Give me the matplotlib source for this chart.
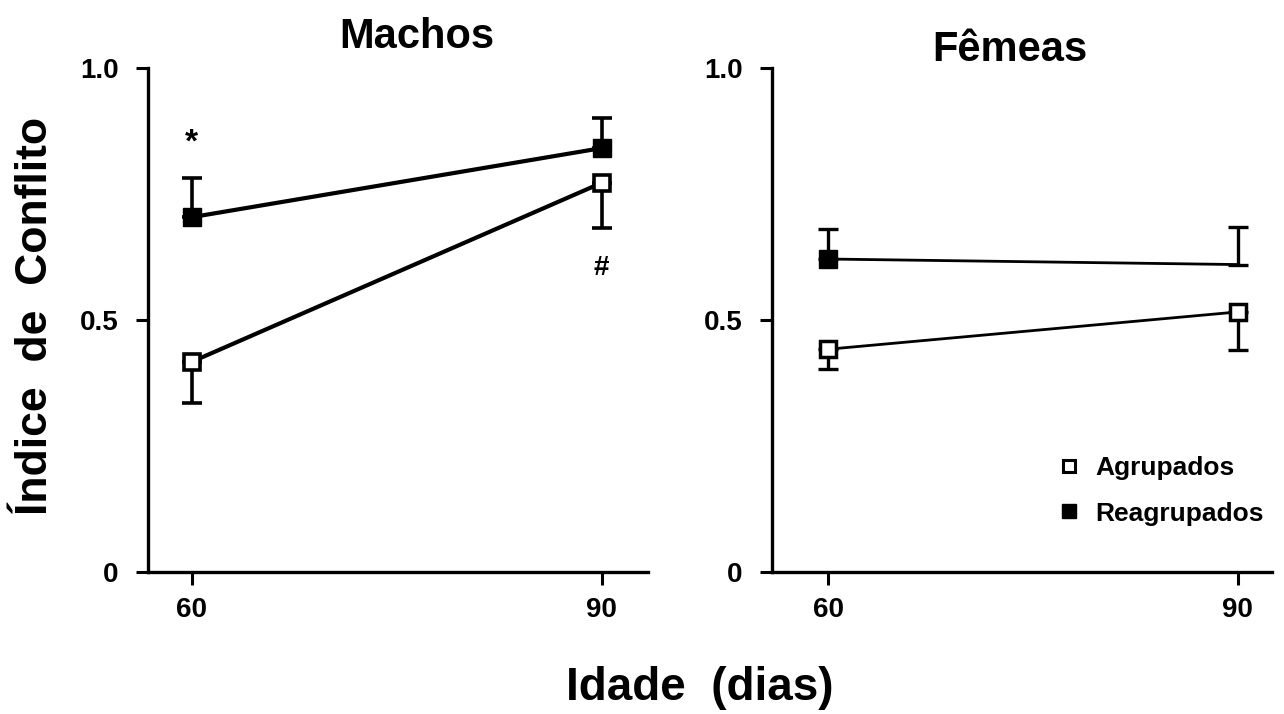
import matplotlib
matplotlib.use("Agg")
import matplotlib.pyplot as plt
from matplotlib.lines import Line2D

plt.rcParams['font.family'] = ['Liberation Sans', 'DejaVu Sans']
plt.rcParams['font.weight'] = 'bold'

ages = [60, 90]
# Machos
m_agr = [0.417, 0.772]
m_agr_err = [0.082, 0.089]      # lower error
m_rea = [0.704, 0.841]
m_rea_err = [0.078, 0.060]      # upper error
# Fêmeas
f_agr = [0.442, 0.516]
f_agr_err = [0.039, 0.076]      # lower error
f_rea = [0.621, 0.610]
f_rea_err = [0.059, 0.075]      # upper error

titles = ["Machos", "Fêmeas"]
yticks = [0, 0.5, 1.0]
yticklabels = ["0", "0.5", "1.0"]
xticklabels = ["60", "90"]
legend_labels = ["Agrupados", "Reagrupados"]

W, H = 1284, 714
fig = plt.figure(figsize=(W/100, H/100), dpi=100)
axL = fig.add_axes([148/W, 1-572/H, 500/W, 504/H])
axR = fig.add_axes([772/W, 1-572/H, 500/W, 504/H])

def style(ax, xlim):
    ax.set_xlim(*xlim)
    ax.set_ylim(0, 1.0)
    for s in ['top', 'right']:
        ax.spines[s].set_visible(False)
    for s in ['left', 'bottom']:
        ax.spines[s].set_linewidth(2.4)
    ax.set_xticks(ages)
    ax.set_xticklabels(xticklabels)
    ax.set_yticks(yticks)
    ax.set_yticklabels(yticklabels)
    ax.tick_params(axis='x', direction='out', length=9, width=2.2, labelsize=20, pad=9)
    ax.tick_params(axis='y', direction='out', length=9, width=2.2, labelsize=20, pad=12)

# Machos
lw = 3.0
axL.errorbar(ages, m_rea, yerr=[[0, 0], m_rea_err], fmt='none', ecolor='black',
             elinewidth=2.6, capsize=7, capthick=2.6)
axL.errorbar(ages, m_agr, yerr=[m_agr_err, [0, 0]], fmt='none', ecolor='black',
             elinewidth=2.6, capsize=7, capthick=2.6)
axL.plot(ages, m_rea, color='black', lw=lw, marker='s', ms=13.5, mfc='black', mec='black', zorder=3)
axL.plot(ages, m_agr, color='black', lw=lw, marker='s', ms=12, mfc='white', mec='black',
         mew=2.6, zorder=3)
axL.text(60, 0.851, "*", ha='center', va='center', fontsize=24, fontweight='bold')
axL.text(90, 0.603, "#", ha='center', va='center', fontsize=20, fontweight='bold')
style(axL, (56.8, 93.4))

# Fêmeas
lw2 = 2.0
axR.errorbar(ages, f_rea, yerr=[[0, 0], f_rea_err], fmt='none', ecolor='black',
             elinewidth=2.4, capsize=7, capthick=2.4)
axR.errorbar(ages, f_agr, yerr=[f_agr_err, [0, 0]], fmt='none', ecolor='black',
             elinewidth=2.4, capsize=7, capthick=2.4)
axR.plot(ages, f_rea, color='black', lw=lw2, zorder=3)
axR.plot(ages[:1], f_rea[:1], ls='none', marker='s', ms=13, mfc='black', mec='black', zorder=4)
axR.plot(ages, f_agr, color='black', lw=lw2, marker='s', ms=12, mfc='white', mec='black',
         mew=2.5, zorder=3)
style(axR, (55.9, 92.5))

handles = [Line2D([], [], ls='none', marker='s', ms=9, mfc='white', mec='black', mew=2.2),
           Line2D([], [], ls='none', marker='s', ms=10, mfc='black', mec='black')]
fig.legend(handles, legend_labels, loc='center left', bbox_to_anchor=(1058/W, 1-491/H),
           frameon=False, fontsize=19, handletextpad=0.6, labelspacing=0.8,
           handlelength=0.8, borderaxespad=0, borderpad=0)

fig.text(417/W, 1-48/H, titles[0], ha='center', va='baseline', fontsize=30, fontweight='bold')
fig.text(1010/W, 1-61/H, titles[1], ha='center', va='baseline', fontsize=30, fontweight='bold')
fig.text(36/W, 1-316/H, "Índice  de  Conflito", ha='center', va='center', rotation=90,
         fontsize=32, fontweight='bold')
fig.text(700/W, 1-700/H, "Idade  (dias)", ha='center', va='baseline', fontsize=33, fontweight='bold')

fig.savefig("out.png", dpi=100)
